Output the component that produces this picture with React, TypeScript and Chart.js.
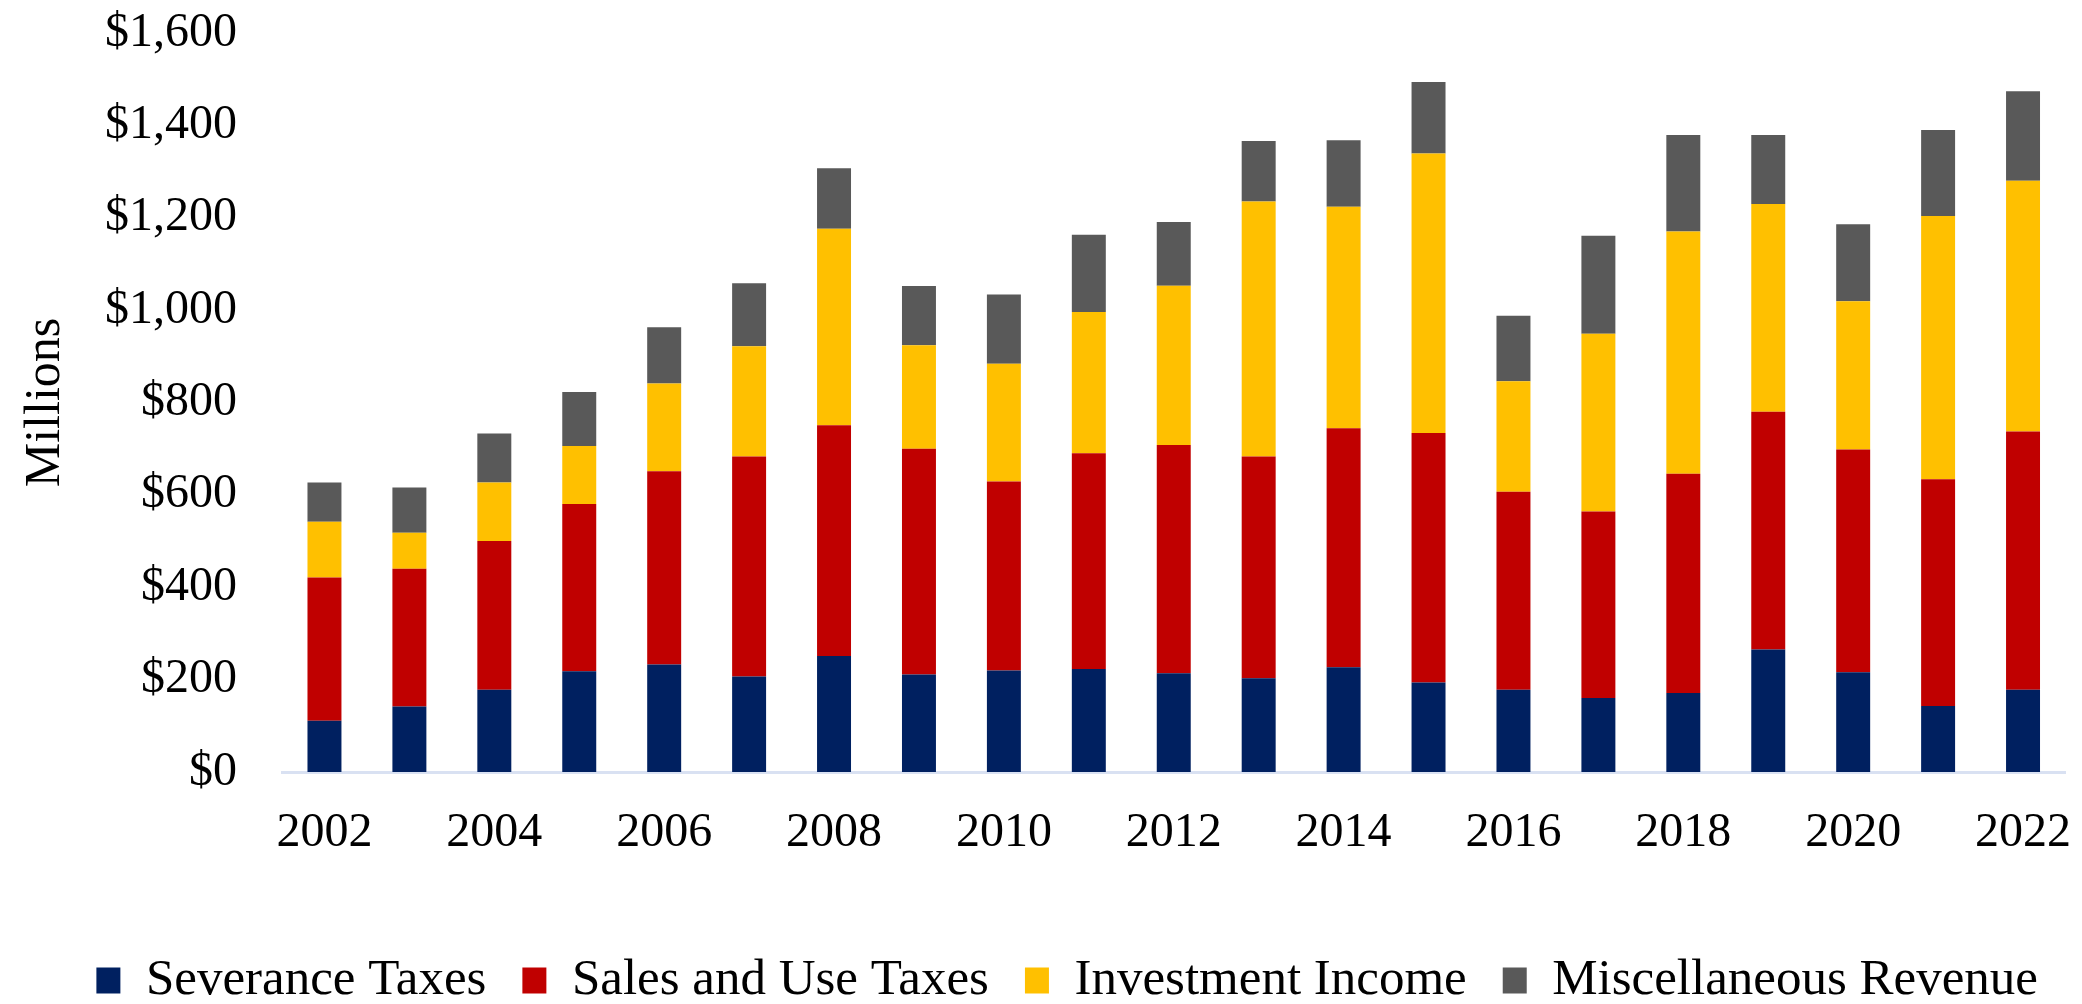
import React, { useEffect, useRef } from "react";
import { Chart, registerables } from "chart.js";

Chart.register(...registerables);

const years: string[] = [
  "2002", "2003", "2004", "2005", "2006", "2007", "2008", "2009", "2010", "2011",
  "2012", "2013", "2014", "2015", "2016", "2017", "2018", "2019", "2020", "2021", "2022",
];

const severanceTaxes: number[] = [111, 142, 178, 218, 233, 207, 251, 211, 220, 223, 214, 203, 227, 194, 178, 160, 171, 265, 216, 143, 178];
const salesAndUseTaxes: number[] = [310, 298, 322, 362, 418, 476, 500, 489, 409, 467, 494, 480, 517, 540, 429, 404, 475, 515, 482, 491, 559];
const investmentIncome: number[] = [121, 78, 127, 126, 190, 239, 425, 224, 255, 306, 345, 552, 480, 605, 239, 385, 524, 450, 321, 570, 543];
const miscellaneousRevenue: number[] = [85, 98, 106, 117, 122, 136, 131, 128, 150, 167, 138, 131, 144, 155, 142, 212, 209, 149, 167, 186, 194];

const seriesNames: string[] = ["Severance Taxes", "Sales and Use Taxes", "Investment Income", "Miscellaneous Revenue"];
const seriesColors: string[] = ["#002060", "#C00000", "#FFC000", "#595959"];

const yMin = 0;
const yMax = 1600;
const yStep = 200;

const FONT = "'Liberation Serif', 'Times New Roman', Times, serif";

export default function App() {
  const canvasRef = useRef<HTMLCanvasElement | null>(null);

  useEffect(() => {
    if (!canvasRef.current) return;
    const values = [severanceTaxes, salesAndUseTaxes, investmentIncome, miscellaneousRevenue];
    const chart = new Chart(canvasRef.current, {
      type: "bar",
      data: {
        labels: years,
        datasets: values.map((d, i) => ({
          label: seriesNames[i],
          data: d,
          backgroundColor: seriesColors[i],
          borderWidth: 0,
          categoryPercentage: 1,
          barPercentage: 0.4,
          xAxisID: "x",
          yAxisID: "y",
        })),
      },
      options: {
        animation: false,
        responsive: true,
        maintainAspectRatio: false,
        devicePixelRatio: 1,
        layout: { padding: { top: 25, left: 0, right: 0, bottom: -20 } },
        plugins: {
          tooltip: { enabled: false },
          legend: {
            position: "bottom",
            align: "end",
            labels: {
              font: { family: FONT, size: 51 },
              color: "#000000",
              boxWidth: 24,
              boxHeight: 26,
              padding: 36,
            },
          },
        },
        scales: {
          x: {
            stacked: true,
            grid: { display: false, drawTicks: true, tickLength: 37 },
            border: { display: true, color: "#D9E1F2", width: 3 },
            ticks: {
              autoSkip: false,
              maxRotation: 0,
              minRotation: 0,
              padding: 0,
              color: "#000000",
              font: { family: FONT, size: 48, lineHeight: 1 },
              callback: function (_v: any, index: number) {
                return index % 2 === 0 ? years[index] : "";
              },
            },
            afterFit: (s: any) => {
              s.height = 147;
            },
          },
          y: {
            stacked: true,
            min: yMin,
            max: yMax,
            grid: { display: false, drawTicks: true, tickLength: 45 },
            border: { display: false },
            ticks: {
              stepSize: yStep,
              padding: 0,
              color: "#000000",
              font: { family: FONT, size: 48, lineHeight: 1 },
              callback: (v: any) => "$" + Number(v).toLocaleString("en-US"),
            },
            title: {
              display: true,
              text: "Millions",
              color: "#000000",
              font: { family: FONT, size: 50 },
              padding: { top: 8, bottom: 0 },
            },
            afterFit: (s: any) => {
              s.width = 274;
            },
          },
          rightPad: {
            type: "linear",
            position: "right",
            display: true,
            grid: { display: false, drawTicks: false },
            border: { display: false },
            ticks: { display: false },
            afterFit: (s: any) => {
              s.width = 8.5;
            },
          },
        },
      } as any,
    });
    return () => chart.destroy();
  }, []);

  return (
    <div style={{ width: "2066px", height: "988px", position: "relative" }}>
      <canvas ref={canvasRef} style={{ display: "block" }} />
    </div>
  );
}
